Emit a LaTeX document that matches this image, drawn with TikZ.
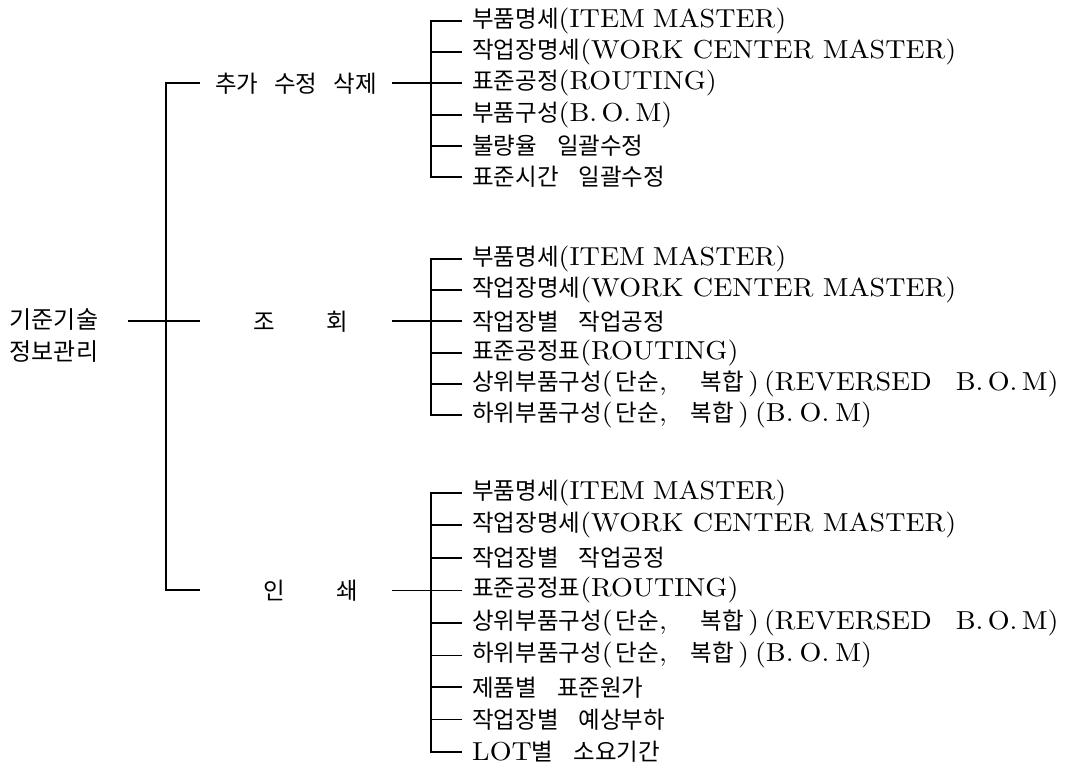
\documentclass[tikz,border=0pt]{standalone}
\usepackage{fontspec}
\setmainfont{lmroman10-regular.otf}[FakeStretch=1.08]
\newfontfamily\kr{Noto Sans CJK KR}
\newcommand\K[1]{{\kr\fontsize{23.5}{28}\selectfont #1}}
\newcommand\gap{\hspace{20pt}}
\newcommand\upbom{\K{상위부품구성}(\hspace{3pt}\K{단순},\hspace{34pt}\K{복합}\hspace{4pt})\hspace{5pt}(REVERSED\hspace{24pt}B.\,O.\,M)}
\newcommand\lowbom{\K{하위부품구성}(\hspace{3pt}\K{단순},\hspace{24pt}\K{복합}\hspace{4pt})\hspace{6pt}(B.\hspace{6pt}O.\hspace{6pt}M)}
\begin{document}
\begin{tikzpicture}[x=1pt,y=-1pt,
  item/.style={anchor=west, inner xsep=10pt, inner ysep=0pt, font=\fontsize{26}{30}\selectfont},
  grp/.style={minimum width=192pt, inner sep=0pt, font=\fontsize{26}{30}\selectfont},
  ln/.style={line width=2pt},
  thinln/.style={line width=0.9pt}]
\useasboundingbox (0,0) rectangle (1076,764);

% root
\node[align=center, inner sep=0pt, font=\kr\fontsize{24}{32}\selectfont] (root) at (54,336) {기준기술\\정보관리};
\coordinate (rs) at (128,321.4);

% group labels
\node[grp] (g1) at (296,83.4) {\K{추가\hspace{16pt}수정\hspace{16pt}삭제}};
\node[grp] (g2) at (296,321.4) {\hspace{10pt}\K{조\hspace{51pt}회}};
\node[grp] (g3) at (296,590.2) {\hspace{30pt}\K{인\hspace{52pt}쇄}};

% top group
\node[item] (a1) at (462,21) {\K{부품명세}(ITEM\hspace{8pt}MASTER)};
\node[item] (a2) at (462,52.2) {\K{작업장명세}(WORK CENTER MASTER)};
\node[item] (a3) at (462,83.4) {\K{표준공정}(ROUTING)};
\node[item] (a4) at (462,114.6) {\K{부품구성}(B.\,O.\,M)};
\node[item] (a5) at (462,145.8) {\K{불량율\gap 일괄수정}};
\node[item] (a6) at (462,177) {\K{표준시간\gap 일괄수정}};

% inquiry group
\node[item] (b1) at (462,259) {\K{부품명세}(ITEM\hspace{8pt}MASTER)};
\node[item] (b2) at (462,290.2) {\K{작업장명세}(WORK CENTER MASTER)};
\node[item] (b3) at (462,321.4) {\K{작업장별\gap 작업공정}};
\node[item] (b4) at (462,352.6) {\K{표준공정표}(ROUTING)};
\node[item] (b5) at (462,383.8) {\upbom};
\node[item] (b6) at (462,415) {\lowbom};

% print group
\node[item] (c1) at (462,493) {\K{부품명세}(ITEM\hspace{8pt}MASTER)};
\node[item] (c2) at (462,525.4) {\K{작업장명세}(WORK CENTER MASTER)};
\node[item] (c3) at (462,557.8) {\K{작업장별\gap 작업공정}};
\node[item] (c4) at (462,590.2) {\K{표준공정표}(ROUTING)};
\node[item] (c5) at (462,622.6) {\upbom};
\node[item] (c6) at (462,655) {\lowbom};
\node[item] (c7) at (462,687.4) {\K{제품별\gap 표준원가}};
\node[item] (c8) at (462,719.8) {\K{작업장별\gap 예상부하}};
\node[item] (c9) at (462,751.6) {LOT\K{별\gap 소요기간}};

% main tree
\draw[ln] (g1.west) -- ++(-34,0) |- (g3.west);
\draw[ln] (rs) -- (g2.west);

% top bracket
\draw[ln] (a1.west) -- ++(-31,0) |- (a6.west);
\foreach \n in {a2,a4,a5} \draw[ln] (\n.west) -- ++(-31,0);
\draw[ln] (g1.east) -- (a3.west);

% inquiry bracket
\draw[ln] (b1.west) -- ++(-31,0) |- (b6.west);
\foreach \n in {b2,b4,b5} \draw[ln] (\n.west) -- ++(-31,0);
\draw[ln] (g2.east) -- (b3.west);

% print bracket
\draw[ln] (c1.west) -- ++(-31,0) |- (c9.west);
\foreach \n in {c2,c3,c5,c7} \draw[ln] (\n.west) -- ++(-31,0);
\foreach \n in {c6,c8} \draw[thinln] (\n.west) -- ++(-31,0);
\draw[thinln] (g3.east) -- (c4.west);
\end{tikzpicture}
\end{document}
